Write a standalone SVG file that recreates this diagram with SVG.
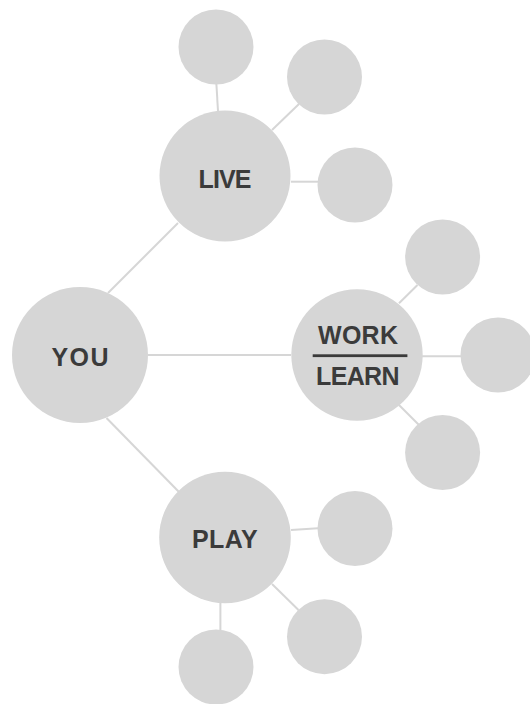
<svg xmlns="http://www.w3.org/2000/svg" width="530" height="704" viewBox="0 0 530 704">
<style>
.big{fill:#d6d6d6}
.small{fill:#d6d6d6}
.conn line{stroke:#d6d6d6;stroke-width:2;fill:none}
.lbl{font-family:"Liberation Sans",Arial,sans-serif;font-weight:bold;font-size:25px;fill:#3b3b3b;text-anchor:middle}
</style>
<rect width="530" height="704" fill="#ffffff"/>
<g id="connectors" class="conn">
<line x1="108" y1="293" x2="178" y2="223"/>
<line x1="148" y1="355" x2="291" y2="355"/>
<line x1="106.5" y1="418" x2="179" y2="492"/>
<line x1="216.4" y1="84" x2="218" y2="111"/>
<line x1="299" y1="104" x2="272" y2="130"/>
<line x1="291" y1="181.7" x2="318" y2="181.7"/>
<line x1="417.5" y1="285" x2="399" y2="303.3"/>
<line x1="422" y1="356.3" x2="461" y2="356.3"/>
<line x1="399" y1="405" x2="419" y2="425"/>
<line x1="291" y1="530" x2="318" y2="528.3"/>
<line x1="272" y1="584" x2="298.5" y2="610"/>
<line x1="220.4" y1="603" x2="220.4" y2="630"/>
</g>
<g id="you">
<circle class="big" cx="80" cy="355" r="68"/>
<text class="lbl" x="80" y="366" textLength="57" lengthAdjust="spacing">YOU</text>
</g>
<g id="live">
<circle class="big" cx="225" cy="176" r="65.5"/>
<text class="lbl" x="225" y="188" textLength="53" lengthAdjust="spacing">LIVE</text>
</g>
<g id="work-learn">
<circle class="big" cx="357" cy="355" r="65.7"/>
<text class="lbl" x="358" y="344.3" textLength="80" lengthAdjust="spacing">WORK</text>
<rect x="312.7" y="354.3" width="94.7" height="2.8" fill="#3b3b3b"/>
<text class="lbl" x="357.8" y="385" textLength="83.6" lengthAdjust="spacing">LEARN</text>
</g>
<g id="play">
<circle class="big" cx="225" cy="537.5" r="65.8"/>
<text class="lbl" x="224.8" y="548.3" textLength="65.6" lengthAdjust="spacing">PLAY</text>
</g>
<g id="live-1"><circle class="small" cx="216" cy="47" r="37.5"/></g>
<g id="live-2"><circle class="small" cx="324.5" cy="77" r="37.5"/></g>
<g id="live-3"><circle class="small" cx="355" cy="185" r="37.5"/></g>
<g id="work-1"><circle class="small" cx="442.6" cy="257" r="37.5"/></g>
<g id="work-2"><circle class="small" cx="498" cy="355" r="37.5"/></g>
<g id="work-3"><circle class="small" cx="442.6" cy="452.5" r="37.5"/></g>
<g id="play-1"><circle class="small" cx="355" cy="528.5" r="37.5"/></g>
<g id="play-2"><circle class="small" cx="324.5" cy="636.7" r="37.5"/></g>
<g id="play-3"><circle class="small" cx="216" cy="667" r="37.5"/></g>
</svg>
